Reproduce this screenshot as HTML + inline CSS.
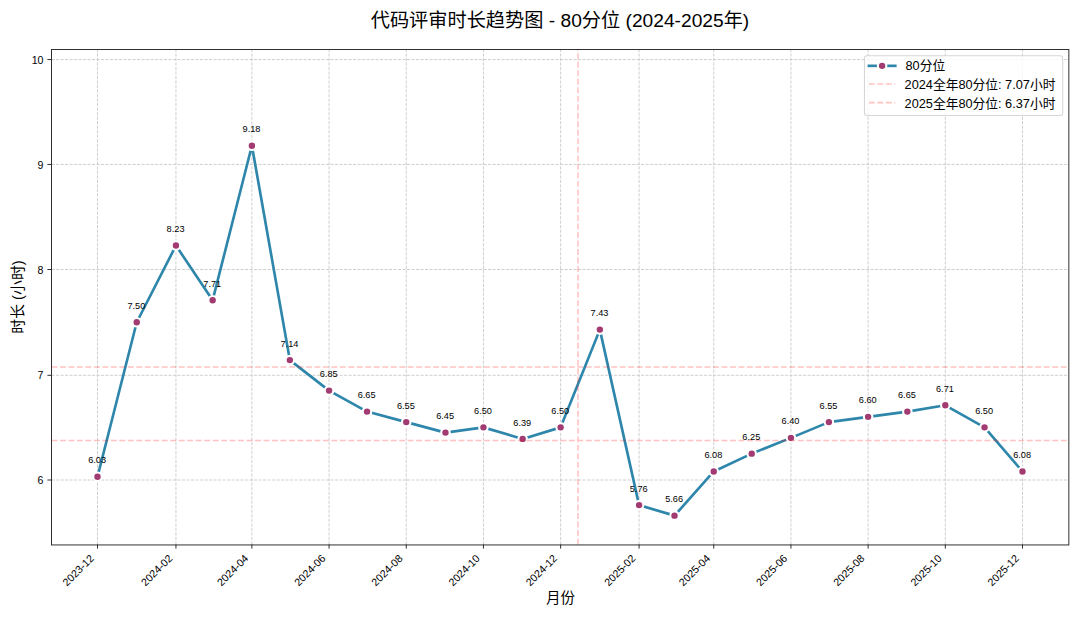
<!DOCTYPE html>
<html lang="zh"><head><meta charset="utf-8"><title>代码评审时长趋势图 - 80分位 (2024-2025年)</title>
<style>
html,body{margin:0;padding:0;background:#fff;}
body{width:1080px;height:617px;overflow:hidden;font-family:"Liberation Sans","Noto Sans CJK SC",sans-serif;}
svg{display:block;font-family:"Liberation Sans","Noto Sans CJK SC",sans-serif;}
svg text{white-space:pre;}
</style></head><body>
<svg width="1080" height="617" viewBox="0 0 1080 617" role="img">
<rect width="1080" height="617" fill="#fff"/>
<g stroke="#b0b0b0" stroke-width="0.85" stroke-dasharray="3.14 1.36" fill="none" opacity="0.7">
<path d="M97.5 544.5V49.5" stroke-dasharray="3.153 1.365"/>
<path d="M175.95 544.5V49.5" stroke-dasharray="3.153 1.365"/>
<path d="M251.88 544.5V49.5" stroke-dasharray="3.153 1.365"/>
<path d="M329.07 544.5V49.5" stroke-dasharray="3.153 1.365"/>
<path d="M406.26 544.5V49.5" stroke-dasharray="3.153 1.365"/>
<path d="M483.44 544.5V49.5" stroke-dasharray="3.153 1.365"/>
<path d="M560.63 544.5V49.5" stroke-dasharray="3.153 1.365"/>
<path d="M639.09 544.5V49.5" stroke-dasharray="3.153 1.365"/>
<path d="M713.74 544.5V49.5" stroke-dasharray="3.153 1.365"/>
<path d="M790.93 544.5V49.5" stroke-dasharray="3.153 1.365"/>
<path d="M868.12 544.5V49.5" stroke-dasharray="3.153 1.365"/>
<path d="M945.31 544.5V49.5" stroke-dasharray="3.153 1.365"/>
<path d="M1022.5 544.5V49.5" stroke-dasharray="3.153 1.365"/>
<path d="M51.5 480H1068.5"/>
<path d="M51.5 375.3H1068.5"/>
<path d="M51.5 269.5H1068.5"/>
<path d="M51.5 164.45H1068.5"/>
<path d="M51.5 59.55H1068.5"/>
</g>
<path d="M97.5 476.75L136.73 322.27L175.95 245.55L212.65 300.2L251.88 145.72L289.84 360.1L329.07 390.58L367.03 411.59L406.26 422.1L445.48 432.61L483.44 427.36L522.67 438.92L560.63 427.36L599.86 329.62L639.09 505.12L674.52 515.63L713.74 471.49L751.71 453.63L790.93 437.87L828.9 422.1L868.12 416.85L907.35 411.59L945.31 405.29L984.54 427.36L1022.5 471.49" fill="none" stroke="#2E86AB" stroke-width="2.65" stroke-linejoin="round"/>
<g fill="#A23B72" stroke="#fff" stroke-width="2.1">
<circle cx="97.5" cy="476.75" r="4.25"/>
<circle cx="136.73" cy="322.27" r="4.25"/>
<circle cx="175.95" cy="245.55" r="4.25"/>
<circle cx="212.65" cy="300.2" r="4.25"/>
<circle cx="251.88" cy="145.72" r="4.25"/>
<circle cx="289.84" cy="360.1" r="4.25"/>
<circle cx="329.07" cy="390.58" r="4.25"/>
<circle cx="367.03" cy="411.59" r="4.25"/>
<circle cx="406.26" cy="422.1" r="4.25"/>
<circle cx="445.48" cy="432.61" r="4.25"/>
<circle cx="483.44" cy="427.36" r="4.25"/>
<circle cx="522.67" cy="438.92" r="4.25"/>
<circle cx="560.63" cy="427.36" r="4.25"/>
<circle cx="599.86" cy="329.62" r="4.25"/>
<circle cx="639.09" cy="505.12" r="4.25"/>
<circle cx="674.52" cy="515.63" r="4.25"/>
<circle cx="713.74" cy="471.49" r="4.25"/>
<circle cx="751.71" cy="453.63" r="4.25"/>
<circle cx="790.93" cy="437.87" r="4.25"/>
<circle cx="828.9" cy="422.1" r="4.25"/>
<circle cx="868.12" cy="416.85" r="4.25"/>
<circle cx="907.35" cy="411.59" r="4.25"/>
<circle cx="945.31" cy="405.29" r="4.25"/>
<circle cx="984.54" cy="427.36" r="4.25"/>
<circle cx="1022.5" cy="471.49" r="4.25"/>
</g>
<g stroke="#ff0000" stroke-width="1.6" stroke-dasharray="5.916 2.565" fill="none" opacity="0.23">
<path d="M51.5 367H1068.5"/>
<path d="M51.5 440.5H1068.5"/>
<path d="M578 544.5V49.5" stroke-dasharray="5.94 2.575"/>
</g>
<g stroke="#262626" stroke-width="0.95" fill="none">
<rect x="51.5" y="49.5" width="1017.35" height="495.45"/>
<path d="M97.5 544.5v4.1"/>
<path d="M175.95 544.5v4.1"/>
<path d="M251.88 544.5v4.1"/>
<path d="M329.07 544.5v4.1"/>
<path d="M406.26 544.5v4.1"/>
<path d="M483.44 544.5v4.1"/>
<path d="M560.63 544.5v4.1"/>
<path d="M639.09 544.5v4.1"/>
<path d="M713.74 544.5v4.1"/>
<path d="M790.93 544.5v4.1"/>
<path d="M868.12 544.5v4.1"/>
<path d="M945.31 544.5v4.1"/>
<path d="M1022.5 544.5v4.1"/>
<path d="M51.5 480h-4.1"/>
<path d="M51.5 375.3h-4.1"/>
<path d="M51.5 269.5h-4.1"/>
<path d="M51.5 164.45h-4.1"/>
<path d="M51.5 59.55h-4.1"/>
</g>
<rect x="864.5" y="55.7" width="198.2" height="59.8" rx="2.5" fill="#fff" fill-opacity="0.8" stroke="#cccccc" stroke-opacity="0.8" stroke-width="1.06"/>
<path d="M867.6 65.85H896.6" stroke="#2E86AB" stroke-width="2.65"/>
<circle cx="882.1" cy="65.85" r="4.25" fill="#A23B72" stroke="#fff" stroke-width="2.1"/>
<path d="M868.9 84.05H895.3" stroke="#ff0000" stroke-width="1.6" stroke-dasharray="5.916 2.565" opacity="0.23"/>
<path d="M868.9 102.65H895.3" stroke="#ff0000" stroke-width="1.6" stroke-dasharray="5.916 2.565" opacity="0.23"/>
<g fill="#000" stroke="none" font-family="&quot;Liberation Sans&quot;,&quot;Noto Sans CJK SC&quot;,sans-serif"><text transform="translate(97.1 463.35)" font-size="9.2" text-anchor="middle">6.03</text><text transform="translate(136.33 308.87)" font-size="9.2" text-anchor="middle">7.50</text><text transform="translate(175.55 232.15)" font-size="9.2" text-anchor="middle">8.23</text><text transform="translate(212.25 286.8)" font-size="9.2" text-anchor="middle">7.71</text><text transform="translate(251.48 132.32)" font-size="9.2" text-anchor="middle">9.18</text><text transform="translate(289.44 346.7)" font-size="9.2" text-anchor="middle">7.14</text><text transform="translate(328.67 377.18)" font-size="9.2" text-anchor="middle">6.85</text><text transform="translate(366.63 398.19)" font-size="9.2" text-anchor="middle">6.65</text><text transform="translate(405.86 408.7)" font-size="9.2" text-anchor="middle">6.55</text><text transform="translate(445.08 419.21)" font-size="9.2" text-anchor="middle">6.45</text><text transform="translate(483.04 413.96)" font-size="9.2" text-anchor="middle">6.50</text><text transform="translate(522.27 425.52)" font-size="9.2" text-anchor="middle">6.39</text><text transform="translate(560.23 413.96)" font-size="9.2" text-anchor="middle">6.50</text><text transform="translate(599.46 316.22)" font-size="9.2" text-anchor="middle">7.43</text><text transform="translate(638.69 491.72)" font-size="9.2" text-anchor="middle">5.76</text><text transform="translate(674.12 502.23)" font-size="9.2" text-anchor="middle">5.66</text><text transform="translate(713.34 458.09)" font-size="9.2" text-anchor="middle">6.08</text><text transform="translate(751.31 440.23)" font-size="9.2" text-anchor="middle">6.25</text><text transform="translate(790.53 424.47)" font-size="9.2" text-anchor="middle">6.40</text><text transform="translate(828.5 408.7)" font-size="9.2" text-anchor="middle">6.55</text><text transform="translate(867.72 403.45)" font-size="9.2" text-anchor="middle">6.60</text><text transform="translate(906.95 398.19)" font-size="9.2" text-anchor="middle">6.65</text><text transform="translate(944.91 391.89)" font-size="9.2" text-anchor="middle">6.71</text><text transform="translate(984.14 413.96)" font-size="9.2" text-anchor="middle">6.50</text><text transform="translate(1022.1 458.09)" font-size="9.2" text-anchor="middle">6.08</text><text transform="translate(43.5 483.6)" font-size="10.62" text-anchor="end">6</text><text transform="translate(43.5 378.6)" font-size="10.62" text-anchor="end">7</text><text transform="translate(43.5 273.6)" font-size="10.62" text-anchor="end">8</text><text transform="translate(43.5 168.6)" font-size="10.62" text-anchor="end">9</text><text transform="translate(43.5 63.6)" font-size="10.62" text-anchor="end">10</text><text transform="translate(94.6 559.1) rotate(-45)" font-size="10.62" text-anchor="end">2023-12</text><text transform="translate(173.05 559.1) rotate(-45)" font-size="10.62" text-anchor="end">2024-02</text><text transform="translate(248.98 559.1) rotate(-45)" font-size="10.62" text-anchor="end">2024-04</text><text transform="translate(326.17 559.1) rotate(-45)" font-size="10.62" text-anchor="end">2024-06</text><text transform="translate(403.36 559.1) rotate(-45)" font-size="10.62" text-anchor="end">2024-08</text><text transform="translate(480.54 559.1) rotate(-45)" font-size="10.62" text-anchor="end">2024-10</text><text transform="translate(557.73 559.1) rotate(-45)" font-size="10.62" text-anchor="end">2024-12</text><text transform="translate(636.19 559.1) rotate(-45)" font-size="10.62" text-anchor="end">2025-02</text><text transform="translate(710.84 559.1) rotate(-45)" font-size="10.62" text-anchor="end">2025-04</text><text transform="translate(788.03 559.1) rotate(-45)" font-size="10.62" text-anchor="end">2025-06</text><text transform="translate(865.22 559.1) rotate(-45)" font-size="10.62" text-anchor="end">2025-08</text><text transform="translate(942.41 559.1) rotate(-45)" font-size="10.62" text-anchor="end">2025-10</text><text transform="translate(1019.6 559.1) rotate(-45)" font-size="10.62" text-anchor="end">2025-12</text><text transform="translate(560 27.2)" font-size="19.2" text-anchor="middle">代码评审时长趋势图 - 80分位 (2024-2025年)</text><text transform="translate(560.5 603)" font-size="14.5" text-anchor="middle">月份</text><text transform="translate(22.8 297) rotate(-90)" font-size="14.86" text-anchor="middle">时长 (小时)</text><text transform="translate(905.5 70.25)" font-size="12.74">80分位</text><text transform="translate(904.6 89.05)" font-size="12.74">2024全年80分位: 7.07小时</text><text transform="translate(904.6 107.65)" font-size="12.74">2025全年80分位: 6.37小时</text></g>
</svg>
</body></html>
